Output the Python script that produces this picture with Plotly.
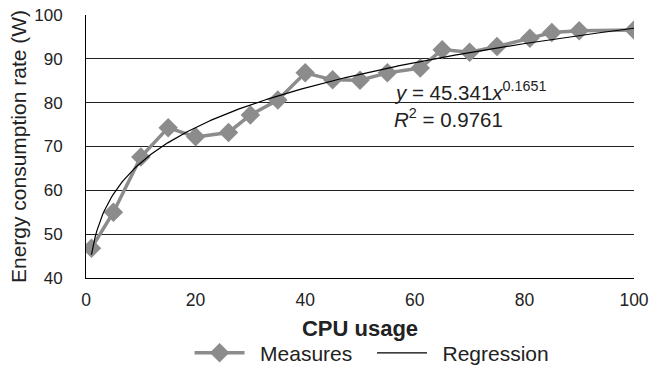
import numpy as np
import plotly.graph_objects as go

# Data
cpu_usage = [1, 5, 10, 15, 20, 26, 30, 35, 40, 45, 50, 55, 61, 65, 70, 75, 81, 85, 90, 100]
energy_rate = [46.8, 55.0, 67.6, 74.3, 72.2, 73.2, 77.2, 80.6, 86.8, 85.2, 85.1, 86.8,
               87.9, 92.1, 91.5, 92.8, 94.7, 96.0, 96.4, 96.6]

# Power regression shown on the chart: y = A * x^B
reg_coef_a = 45.341
reg_coef_b = 0.1651
reg_r2 = 0.9761

y_ticks = [40, 50, 60, 70, 80, 90, 100]
x_ticks = [0, 20, 40, 60, 80, 100]

FONT = "Liberation Sans, Arial, Helvetica, sans-serif"
GRAY = "#8c8c8c"
TXT = "#222"

x_fit = np.linspace(min(cpu_usage), max(cpu_usage), 300)
y_fit = reg_coef_a * x_fit ** reg_coef_b

fig = go.Figure()
fig.add_trace(go.Scatter(
    x=cpu_usage, y=energy_rate, mode="lines+markers", name="\u2002Measures\u2002\u2009",
    line=dict(color=GRAY, width=3.5),
    marker=dict(symbol="diamond", size=15, color=GRAY),
))
fig.add_trace(go.Scatter(
    x=x_fit, y=y_fit, mode="lines", name="\u2002Regression",
    line=dict(color="black", width=1.2),
))

fig.add_annotation(
    x=55.8, y=82.7, xref="x", yref="y", xanchor="left", yanchor="middle",
    text=f"<i>y</i> = {reg_coef_a}<i>x</i><sup>{reg_coef_b}</sup>",
    showarrow=False, font=dict(family=FONT, size=20.5, color=TXT),
)
fig.add_annotation(
    x=55.8, y=76.4, xref="x", yref="y", xanchor="left", yanchor="middle",
    text=f"<i>R</i><sup>2</sup> = {reg_r2}",
    showarrow=False, font=dict(family=FONT, size=20.5, color=TXT),
)

fig.update_layout(
    width=651, height=367,
    margin=dict(l=86, r=17, t=15, b=89, autoexpand=False),
    plot_bgcolor="white", paper_bgcolor="white",
    font=dict(family=FONT, color=TXT),
    showlegend=True,
    legend=dict(
        orientation="h", x=0.522, xanchor="center", xref="paper",
        y=-0.208, yanchor="top",
        font=dict(family=FONT, size=21, color=TXT),
        itemwidth=50, bgcolor="rgba(0,0,0,0)",
    ),
)
fig.update_xaxes(
    range=[0, 100], tickvals=x_ticks, automargin=False,
    showgrid=False, zeroline=False,
    showline=True, linecolor="black", linewidth=1,
    ticks="outside", ticklen=6, tickcolor="rgba(0,0,0,0)",
    tickfont=dict(family=FONT, size=17.5, color=TXT),
    title=dict(text="<b>CPU usage</b>", font=dict(family=FONT, size=22, color=TXT), standoff=11),
)
fig.update_yaxes(
    range=[40, 100], tickvals=y_ticks, automargin=False,
    showgrid=True, gridcolor=TXT, gridwidth=1, zeroline=False,
    showline=True, linecolor="black", linewidth=1,
    ticks="outside", ticklen=19, tickcolor="rgba(0,0,0,0)",
    tickfont=dict(family=FONT, size=17, color=TXT),
    title=dict(text="Energy consumption rate (W)", font=dict(family=FONT, size=21, color=TXT), standoff=1),
)

fig.write_html("out.html")
